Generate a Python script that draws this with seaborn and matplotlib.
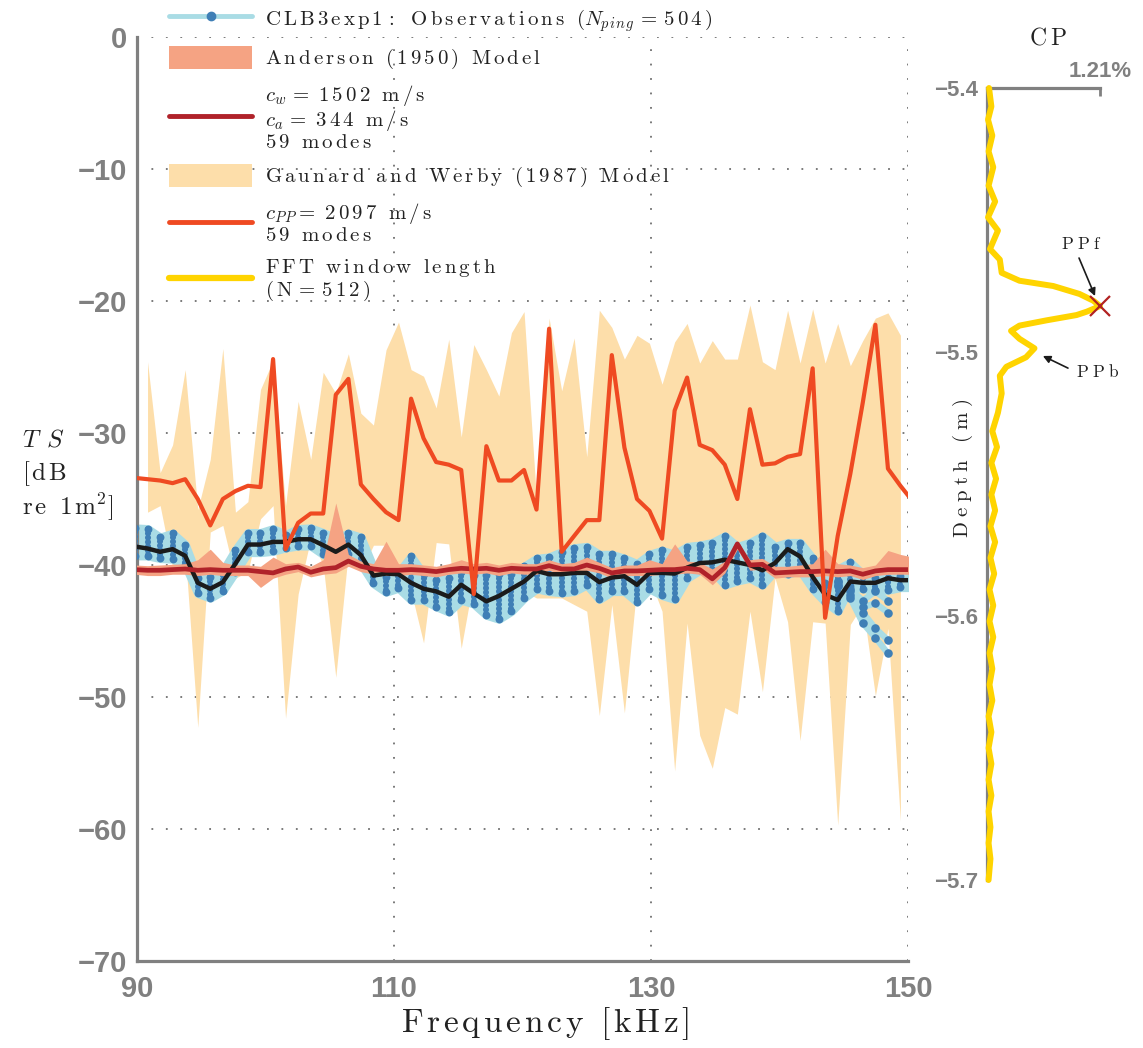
import numpy as np
import matplotlib
matplotlib.use("Agg")
import matplotlib.pyplot as plt
import seaborn as sns
from matplotlib.lines import Line2D
from matplotlib.patches import Patch

# ---------------------------------------------------------------- data
# FFT bin frequencies (kHz); first and last bins fall just outside the axis range
freq = [89.84, 90.82, 91.80, 92.77, 93.75, 94.73, 95.70, 96.68, 97.66, 98.63,
        99.61, 100.59, 101.56, 102.54, 103.52, 104.49, 105.47, 106.45, 107.42, 108.40,
        109.38, 110.35, 111.33, 112.30, 113.28, 114.26, 115.23, 116.21, 117.19, 118.16,
        119.14, 120.12, 121.09, 122.07, 123.05, 124.02, 125.00, 125.98, 126.95, 127.93,
        128.91, 129.88, 130.86, 131.84, 132.81, 133.79, 134.77, 135.74, 136.72, 137.70,
        138.67, 139.65, 140.63, 141.60, 142.58, 143.55, 144.53, 145.51, 146.48, 147.46,
        148.44, 149.41, 150.39]

# observations: mean TS and spread of pings
obs_mean = [-38.6,
            -38.75, -39.0, -38.8, -39.3, -41.35, -41.8, -41.3, -39.9, -38.45, -38.45,
            -38.25, -38.25, -38.05, -38.05, -38.5, -39.0, -38.45, -39.25, -40.8, -40.65,
            -40.7, -41.35, -41.8, -42.0, -42.4, -41.5, -42.15, -42.75, -42.35, -41.8,
            -41.25, -40.45, -40.7, -40.7, -40.6, -40.6, -41.3, -40.95, -40.85, -41.5,
            -40.6, -40.6, -40.65, -40.2, -39.85, -39.8, -39.6, -39.8, -40.0, -40.4,
            -39.85, -38.8, -39.35, -40.9, -42.25, -42.65, -41.25, -41.35, -41.35, -41.0,
            -41.15, -41.15]
obs_hi = [-37.2,
          -37.25, -37.9, -37.6, -38.45, -40.95, -40.9, -40.45, -38.85, -37.55, -37.55,
          -37.25, -37.7, -37.25, -37.2, -37.55, -38.0, -37.6, -37.9, -40.2, -40.9,
          -40.55, -39.35, -40.7, -41.1, -41.0, -40.5, -40.75, -40.75, -40.7, -40.65,
          -40.1, -39.5, -39.4, -39.0, -38.7, -38.6, -39.2, -39.2, -39.5, -39.9,
          -39.2, -38.9, -39.2, -38.6, -38.5, -38.3, -37.8, -38.6, -38.3, -37.8,
          -38.6, -38.3, -38.3, -39.5, -41.4, -40.3, -39.8, -40.7, -41.0, -41.0,
          -40.8, -40.8]
obs_lo = [-39.3,
          -39.3, -39.5, -39.55, -40.0, -42.15, -42.5, -41.95, -40.5, -39.05, -39.05,
          -38.95, -38.7, -38.55, -38.55, -39.2, -39.6, -39.2, -39.9, -41.4, -42.05,
          -41.75, -42.65, -42.65, -43.15, -43.55, -42.65, -42.95, -43.8, -44.1, -43.5,
          -42.5, -41.8, -42.0, -42.1, -42.0, -41.5, -42.6, -42.0, -42.0, -42.8,
          -41.8, -42.3, -42.6, -41.0, -40.4, -40.4, -41.5, -41.2, -41.0, -41.5,
          -40.4, -40.7, -40.4, -41.8, -42.8, -43.5, -41.6, -41.8, -41.9, -41.9,
          -41.7, -41.7]
# pings that drift away at the top of the band (bins 144.5 - 149.4 kHz)
tail_freq = [144.53, 145.51, 146.48, 147.46, 148.44]
tail_1 = [-41.6, -42.5, -44.4, -45.5, -46.7]
tail_2 = [-41.5, -42.3, -43.6, -44.8, -45.7]
tail_3 = [-41.3, -42.0, -43.2, -42.9, -43.6]
tail_4 = [-41.2, -41.8, -42.7, -42.0, -42.7]

# Anderson (1950) fluid sphere model
anderson_mean = [-40.35,
                 -40.4, -40.4, -40.35, -40.3, -40.4, -40.35, -40.4, -40.4, -40.4, -40.5,
                 -40.6, -40.3, -40.15, -40.55, -40.3, -40.2, -39.7, -40.1, -40.3, -40.4,
                 -40.4, -40.35, -40.4, -40.5, -40.35, -40.25, -40.3, -40.25, -40.4, -40.25,
                 -40.3, -40.3, -40.05, -40.3, -40.3, -40.0, -40.25, -40.6, -40.45, -40.45,
                 -40.4, -40.35, -40.35, -40.25, -40.35, -41.05, -40.2, -38.4, -40.0, -39.95,
                 -40.6, -40.55, -40.5, -40.5, -40.45, -40.5, -40.45, -40.7, -40.45, -40.35,
                 -40.35, -40.35]
anderson_hi = [-40.0,
               -40.05, -40.0, -39.95, -39.9, -39.6, -38.8, -39.8, -40.0, -40.0, -40.1,
               -39.4, -39.9, -39.8, -40.1, -39.6, -35.3, -39.2, -39.7, -39.9, -38.2,
               -39.9, -39.9, -40.0, -40.1, -39.9, -39.6, -39.9, -39.8, -40.0, -39.8,
               -39.9, -39.9, -39.6, -39.9, -39.8, -39.4, -39.8, -40.2, -40.0, -40.0,
               -39.6, -39.9, -38.4, -39.7, -39.8, -40.3, -39.7, -38.2, -39.6, -39.5,
               -40.1, -40.1, -40.0, -39.9, -38.8, -39.9, -40.0, -40.2, -40.0, -38.9,
               -39.2, -39.4]
anderson_lo = [-40.7,
               -40.8, -40.8, -40.7, -40.7, -40.8, -40.7, -40.8, -40.8, -40.8, -41.7,
               -41.0, -40.7, -40.5, -40.9, -40.7, -40.6, -40.1, -40.5, -40.7, -40.8,
               -40.8, -40.7, -40.8, -40.9, -40.7, -40.6, -40.7, -40.6, -40.8, -40.6,
               -40.7, -40.7, -40.4, -40.7, -40.7, -40.4, -40.6, -41.0, -40.8, -40.8,
               -40.8, -40.7, -40.7, -40.6, -40.7, -41.5, -40.6, -38.8, -40.4, -40.3,
               -41.0, -40.9, -40.9, -40.9, -40.8, -40.9, -40.8, -41.1, -40.8, -40.7,
               -40.7, -40.7]

# Gaunard and Werby (1987) elastic shell model (c_PP = 2097 m/s) and its range
gw_mean = [-33.4,
           -33.5, -33.6, -33.8, -33.5, -35.0, -37.0, -35.0, -34.4, -34.0, -34.1,
           -24.4, -38.8, -36.8, -36.1, -36.1, -27.1, -25.9, -33.9, -35.0, -36.0,
           -36.6, -27.4, -30.4, -32.2, -32.4, -32.8, -42.2, -31.0, -33.6, -33.6,
           -32.8, -35.8, -22.1, -39.0, -37.8, -36.6, -36.6, -24.1, -31.1, -35.0,
           -35.9, -38.0, -28.3, -25.8, -30.9, -31.3, -32.4, -35.0, -28.2, -32.4,
           -32.3, -31.8, -31.6, -25.1, -44.0, -37.8, -33.1, -27.7, -21.8, -32.7,
           -34.0, -35.2]
gw_hi = [-24.6, -33.0, -30.9, -25.2, -35.8, -32.0, -23.6, -36.0, -35.2, -26.7,
         -24.5, -35.5, -27.6, -32.0, -25.4, -27.0, -24.0, -28.5, -29.4, -23.7,
         -21.6, -25.2, -25.7, -28.1, -22.9, -30.3, -23.3, -25.2, -27.2, -22.4,
         -20.8, -35.0, -21.3, -26.8, -22.8, -31.8, -20.7, -22.0, -24.4, -22.6,
         -23.2, -26.3, -23.1, -21.7, -24.7, -23.0, -24.4, -24.4, -20.3, -24.6,
         -25.2, -20.7, -24.7, -20.6, -24.7, -21.7, -24.9, -23.0, -21.3, -20.9,
         -22.6]
gw_lo = [-36.0, -35.5, -40.2, -39.0, -52.3, -37.5, -37.0, -41.0, -40.5, -36.5,
         -35.5, -51.6, -42.2, -38.0, -40.0, -48.5, -39.0, -40.5, -38.5, -38.5,
         -41.0, -42.0, -45.9, -38.3, -38.4, -46.3, -41.0, -40.0, -41.5, -40.5,
         -42.0, -42.5, -42.5, -42.5, -43.0, -43.5, -51.4, -43.0, -51.2, -41.5,
         -41.0, -43.5, -55.6, -44.4, -52.9, -55.4, -50.8, -51.3, -43.5, -49.6,
         -41.0, -44.3, -53.3, -44.3, -44.4, -59.7, -44.5, -43.0, -49.9, -44.8,
         -59.4]

# CP profile of the FFT window (N=512) against depth
cp_depth = [-5.400, -5.407, -5.412, -5.418, -5.424, -5.430, -5.437, -5.443, -5.449, -5.454,
            -5.461, -5.465, -5.470, -5.473, -5.475, -5.478, -5.4806, -5.4826, -5.4847, -5.486,
            -5.488, -5.490, -5.492, -5.495, -5.4986, -5.502, -5.5056, -5.509, -5.5157, -5.523,
            -5.530, -5.536, -5.542, -5.548, -5.554, -5.560, -5.566, -5.572, -5.578, -5.584,
            -5.590, -5.596, -5.602, -5.608, -5.614, -5.620, -5.626, -5.632, -5.638, -5.644,
            -5.650, -5.656, -5.662, -5.668, -5.674, -5.680, -5.686, -5.692, -5.700]
cp_val = [0.025, 0.05, 0.014, 0.06, 0.02, 0.07, 0.02, 0.09, 0.014, 0.12,
          0.035, 0.14, 0.16, 0.35, 0.71, 0.99, 1.14, 1.21, 1.07, 0.96,
          0.64, 0.35, 0.26, 0.35, 0.51, 0.42, 0.21, 0.14, 0.16, 0.12,
          0.06, 0.11, 0.05, 0.10, 0.05, 0.09, 0.04, 0.09, 0.04, 0.08,
          0.03, 0.07, 0.03, 0.07, 0.03, 0.06, 0.03, 0.06, 0.02, 0.05,
          0.02, 0.05, 0.02, 0.05, 0.02, 0.04, 0.02, 0.04, 0.02]
cp_peak = (1.21, -5.4826)

ts_ticks = [-70, -60, -50, -40, -30, -20, -10, 0]
freq_ticks = [90, 110, 130, 150]
depth_ticks = [-5.4, -5.5, -5.6, -5.7]

# ---------------------------------------------------------------- style
sns.set_theme(style="white")
plt.rcParams["font.family"] = ["Liberation Sans", "DejaVu Sans"]
plt.rcParams["font.weight"] = "bold"
plt.rcParams["mathtext.fontset"] = "cm"

GRAY = "#808080"
C_OBS_LINE = "#a9dce5"
C_OBS_DOT = "#3f7fb6"
C_AND_FILL = "#f5a383"
C_AND_LINE = "#b0222a"
C_GW_FILL = "#fddeaa"
C_GW_LINE = "#ef4a22"
C_CP = "#ffd400"


def spaced(text, gap=0.17):
    """Letter-spaced mathtext body for a plain string."""
    parts = [r"\ " if ch == " " else ch for ch in text]
    return (r"\hspace{%g}" % gap).join(parts)


def rm(text, gap=0.17):
    return r"\mathrm{" + spaced(text, gap) + "}"


fig = plt.figure(figsize=(11.43, 10.48), dpi=100)
W, H = 1143.0, 1048.0
ax = fig.add_axes([137 / W, 1 - 961 / H, 771 / W, 924 / H])

freq_a = np.array(freq)
freq_bins = freq_a[1:-1]

# Gaunard & Werby range
ax.fill_between(freq_bins, gw_lo, gw_hi, color=C_GW_FILL, lw=0, zorder=1)

# observation spread, with each ping drawn as a bead column
ax.fill_between(freq_a, obs_lo, obs_hi, color=C_OBS_LINE, lw=6, edgecolor=C_OBS_LINE, zorder=2)
for tail in (tail_1, tail_2, tail_3, tail_4):
    sns.lineplot(x=tail_freq, y=tail, ax=ax, color=C_OBS_LINE, lw=4.5, zorder=2,
                 estimator=None, sort=False, legend=False)
for f, lo, hi in zip(freq_a, obs_lo, obs_hi):
    ax.plot([f, f], [hi, lo], color=C_OBS_DOT, lw=4.4, linestyle=(0, (0.01, 0.7)),
            dash_capstyle="round", zorder=3)
ax.scatter(np.concatenate([freq_a, freq_a]), np.concatenate([obs_lo, obs_hi]),
           s=32, color=C_OBS_DOT, lw=0, zorder=3)
for tail in (tail_1, tail_2, tail_3, tail_4):
    ax.scatter(tail_freq, tail, s=38, color=C_OBS_DOT, lw=0, zorder=3)

# Anderson model range
ax.fill_between(freq_a, anderson_lo, anderson_hi, color=C_AND_FILL, lw=0, zorder=4)

# mean curves
sns.lineplot(x=freq_a, y=obs_mean, ax=ax, color="#1b1b1b", lw=3.2, zorder=5,
             estimator=None, legend=False)
sns.lineplot(x=freq_a, y=anderson_mean, ax=ax, color=C_AND_LINE, lw=3.4, zorder=6,
             estimator=None, legend=False)
sns.lineplot(x=freq_a, y=gw_mean, ax=ax, color=C_GW_LINE, lw=3.0, zorder=7,
             estimator=None, legend=False)

ax.set_xlim(90, 150)
ax.set_ylim(-70, 0)
ax.set_xticks(freq_ticks)
ax.set_yticks(ts_ticks)
ax.set_axisbelow(True)
ax.grid(True, linestyle=(0, (1, 7)), color="#707070", lw=1.3)
for s in ("top", "right"):
    ax.spines[s].set_visible(False)
for s in ("left", "bottom"):
    ax.spines[s].set_color(GRAY)
    ax.spines[s].set_linewidth(2.3)
ax.tick_params(axis="y", direction="in", length=6.5, width=2.0, color=GRAY,
               pad=7, labelsize=21, labelcolor=GRAY)
ax.tick_params(axis="x", direction="in", length=5, width=1.0, color=GRAY,
               pad=10, labelsize=21, labelcolor=GRAY)
ax.set_xlabel("$" + rm("Frequency [kHz]", 0.13) + "$", fontsize=24,
              color="#222222", labelpad=4)
ax.xaxis.set_label_coords(0.53, -0.048)
ax.set_ylabel("")

# TS label, three left-aligned lines
fig.text(22 / W, 1 - 440 / H, r"$T\hspace{0.45}S$", fontsize=18, ha="left", va="center",
         color="#222222")
fig.text(22 / W, 1 - 474 / H, "$" + rm("[dB", 0.14) + "$", fontsize=18, ha="left",
         va="center", color="#222222")
fig.text(22 / W, 1 - 507 / H, "$" + rm("re 1m", 0.14) + r"^{2}\mathrm{]}$", fontsize=18,
         ha="left", va="center", color="#222222")

# legend
h = r"\hspace{0.17}"
lab_obs = ("$" + rm("CLB3exp1: Observations (") + r"N_{" + spaced("ping", 0.1) + "}"
           + h + "=" + h + rm("504)") + "$")
lab_and = "$" + rm("Anderson (1950) Model") + "$"
lab_and_line = ("$c_{w}" + h + r"=\ " + rm("1502 m/s") + "$\n"
                + "$c_{a}" + h + r"=\ " + rm("344 m/s") + "$\n"
                + "$" + rm("59 modes") + "$")
lab_gw = "$" + rm("Gaunard and Werby (1987) Model") + "$"
lab_gw_line = ("$c_{" + spaced("PP", 0.1) + r"}=\ " + rm("2097 m/s") + "$\n"
               + "$" + rm("59 modes") + "$")
lab_cp = "$" + rm("FFT window length") + "$\n$" + rm("(N=512)") + "$"

handles = [
    Line2D([], [], color=C_OBS_LINE, lw=3.5, marker="o", markersize=6,
           markerfacecolor=C_OBS_DOT, markeredgecolor=C_OBS_DOT),
    Patch(facecolor=C_AND_FILL, edgecolor="none"),
    Line2D([], [], color=C_AND_LINE, lw=3.5),
    Patch(facecolor=C_GW_FILL, edgecolor="none"),
    Line2D([], [], color=C_GW_LINE, lw=3.5),
    Line2D([], [], color=C_CP, lw=4.5),
]
labels = [lab_obs, lab_and, lab_and_line, lab_gw, lab_gw_line, lab_cp]
leg = fig.legend(handles, labels, loc="upper left",
                 bbox_to_anchor=(169 / W, 1 - 7 / H), frameon=False, fontsize=15,
                 handlelength=4.0, handleheight=1.3, handletextpad=0.6,
                 labelspacing=0.58, numpoints=1, borderpad=0, borderaxespad=0)
for t in leg.get_texts():
    t.set_color("#222222")
    t.set_linespacing(0.98)

# ---------------------------------------------------------------- CP panel
rax = fig.add_axes([986.7 / W, 1 - 880 / H, 113.3 / W, 792 / H])
rax.set_facecolor("none")
rax.plot(cp_val, cp_depth, color=C_CP, lw=4.3, solid_capstyle="round",
         solid_joinstyle="round", clip_on=False, zorder=3)
rax.plot([cp_peak[0]], [cp_peak[1]], marker="x", ms=15, mew=1.6, color="#b22222",
         clip_on=False, zorder=4)
rax.set_xlim(0, 1.21)
rax.set_ylim(-5.7, -5.4)
rax.grid(False)
for s in ("bottom", "right"):
    rax.spines[s].set_visible(False)
for s in ("left", "top"):
    rax.spines[s].set_color(GRAY)
    rax.spines[s].set_linewidth(2.3)
rax.xaxis.tick_top()
rax.set_xticks([1.21])
rax.set_xticklabels(["1.21%"])
rax.set_yticks(depth_ticks)
rax.set_yticklabels(["\u22125.4", "\u22125.5", "\u22125.6", "\u22125.7"])
rax.tick_params(axis="x", direction="in", length=6, width=2.0, color=GRAY, pad=4,
                labelsize=16, labelcolor=GRAY)
rax.tick_params(axis="y", direction="in", length=6, width=2.0, color=GRAY, pad=6,
                labelsize=16, labelcolor=GRAY)

arrow = dict(arrowstyle="-|>", color="#1b1b1b", lw=1.2, mutation_scale=11,
             shrinkA=0, shrinkB=0)
rax.annotate("", xy=(1.157, -5.4788), xytext=(0.986, -5.4644), arrowprops=arrow,
             annotation_clip=False)
rax.text(1.017, -5.4591, "$" + rm("PPf", 0.3) + "$", fontsize=12.5, ha="center",
         va="center", color="#222222", clip_on=False)
rax.annotate("", xy=(0.60, -5.5015), xytext=(0.868, -5.5061), arrowprops=arrow,
             annotation_clip=False)
rax.text(1.19, -5.5072, "$" + rm("PPb", 0.3) + "$", fontsize=12.5, ha="center",
         va="center", color="#222222", clip_on=False)

fig.text(1048 / W, 1 - 38 / H, "$" + rm("CP", 0.2) + "$", fontsize=17, ha="center",
         va="center", color="#222222")
fig.text(963 / W, 1 - 468 / H, "$" + rm("Depth (m)", 0.3) + "$", fontsize=15,
         rotation=90, ha="center", va="center", color="#222222")

fig.savefig("out.png", dpi=100)
